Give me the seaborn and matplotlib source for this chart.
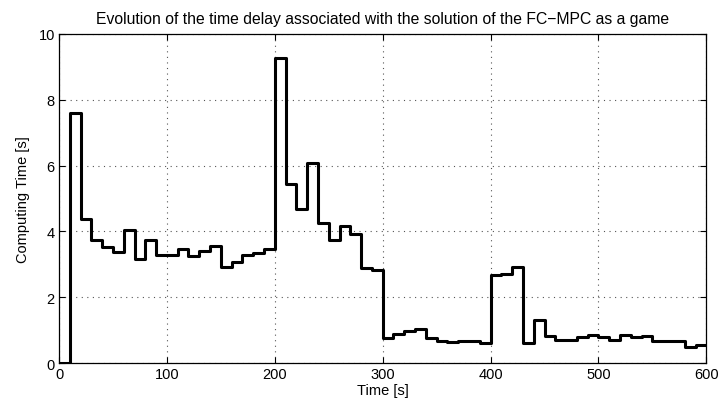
import numpy as np
import pandas as pd
import matplotlib
matplotlib.use("Agg")
import matplotlib.pyplot as plt
import seaborn as sns

# Step start times (s) and computing-time values (s), one per 10 s interval
time_s = list(range(0, 610, 10))
computing_time = [
    0.0, 7.61, 4.39, 3.73, 3.52, 3.37, 4.03, 3.15, 3.73, 3.27,
    3.29, 3.47, 3.25, 3.39, 3.57, 2.91, 3.07, 3.27, 3.34, 3.47,
    9.26, 5.45, 4.69, 6.09, 4.25, 3.73, 4.16, 3.91, 2.88, 2.83,
    0.76, 0.88, 0.96, 1.02, 0.76, 0.66, 0.65, 0.68, 0.66, 0.61,
    2.68, 2.71, 2.91, 0.61, 1.31, 0.83, 0.71, 0.70, 0.78, 0.85,
    0.78, 0.71, 0.85, 0.80, 0.83, 0.68, 0.68, 0.66, 0.48, 0.55,
]
# repeat last value so the final step reaches t = 600
values_plot = computing_time + [computing_time[-1]]

x_ticks = [0, 100, 200, 300, 400, 500, 600]
y_ticks = [0, 2, 4, 6, 8, 10]
title = "Evolution of the time delay associated with the solution of the FC\u2212MPC as a game"
xlabel = "Time [s]"
ylabel = "Computing Time [s]"

sns.set_theme(style="white", rc={"text.color": "black", "axes.labelcolor": "black",
                                 "xtick.color": "black", "ytick.color": "black"})
plt.rcParams["font.family"] = ["Liberation Sans", "DejaVu Sans"]
plt.rcParams["axes.unicode_minus"] = True

df = pd.DataFrame({"t": time_s, "v": values_plot})

fig = plt.figure(figsize=(7.2, 4.1), dpi=100)
ax = fig.add_axes([0.082, 0.112, 0.899, 0.803])
sns.lineplot(data=df, x="t", y="v", ax=ax, drawstyle="steps-post",
             color="black", linewidth=2.2, estimator=None)

ax.set_xlim(0, 600)
ax.set_ylim(0, 10)
ax.set_xticks(x_ticks)
ax.set_yticks(y_ticks)
ax.set_xticklabels([str(t) for t in x_ticks], fontsize=10.5, color="black")
ax.set_yticklabels([str(t) for t in y_ticks], fontsize=10.5, color="black")
ax.tick_params(direction="in", length=4, width=0.8, color="black",
               top=True, right=True, bottom=True, left=True, pad=3)
ax.grid(True, linestyle=(0, (1, 4)), color="#555555", linewidth=0.8)
for s in ax.spines.values():
    s.set_color("black")
    s.set_linewidth(0.9)
ax.set_title(title, fontsize=11.3, pad=8, color="black")
ax.set_xlabel(xlabel, fontsize=10.5, labelpad=1, color="black")
ax.set_ylabel(ylabel, fontsize=10.5, labelpad=6, color="black")

fig.savefig("out.png", dpi=100)
